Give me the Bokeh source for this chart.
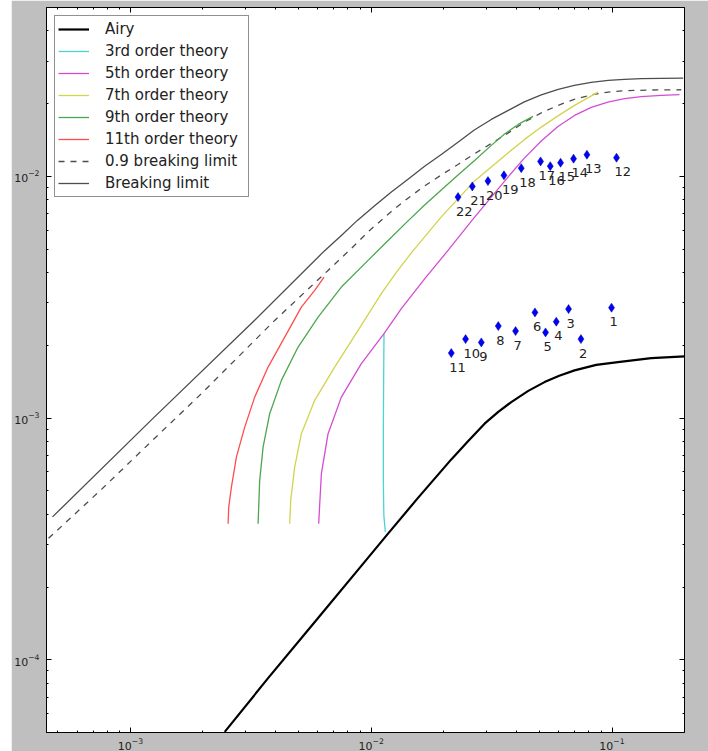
from bokeh.plotting import figure
from bokeh.models import (Range1d, FixedTicker, LogTickFormatter, LogAxis, Legend,
                          LegendItem, ColumnDataSource, Spacer, CustomJSTickFormatter)
from bokeh.layouts import row
from bokeh.embed import file_html
from bokeh.resources import INLINE
from bokeh.core.properties import value

# ---- wave steepness H/gT^2 against relative depth d/gT^2 ----
breaking_x = [4.745e-4, 1.222e-3, 3.272e-3, 6.388e-3, 7.514e-3, 8.757e-3, 1.030e-2, 1.212e-2,
              1.426e-2, 1.661e-2, 1.954e-2, 2.299e-2, 2.679e-2, 3.152e-2, 3.708e-2, 4.322e-2,
              5.083e-2, 5.979e-2, 6.968e-2, 8.197e-2, 9.643e-2, 0.1124, 0.1322, 0.1601, 0.1975]
breaking_y = [3.90e-4, 9.83e-4, 2.536e-3, 4.918e-3, 5.70e-3, 6.577e-3, 7.550e-3, 8.627e-3,
              9.765e-3, 1.100e-2, 1.233e-2, 1.389e-2, 1.557e-2, 1.721e-2, 1.876e-2, 2.034e-2,
              2.174e-2, 2.291e-2, 2.379e-2, 2.448e-2, 2.496e-2, 2.520e-2, 2.537e-2, 2.543e-2, 2.550e-2]

breaking09_x = [4.567e-4, 7.58e-4, 1.222e-3, 1.971e-3, 3.972e-3, 6.618e-3, 8.268e-3, 9.848e-3,
                1.212e-2, 1.426e-2, 1.666e-2, 1.954e-2, 2.293e-2, 2.679e-2, 3.152e-2, 3.708e-2,
                4.334e-2, 5.083e-2, 5.962e-2, 6.968e-2, 8.197e-2, 9.643e-2, 0.1127, 0.14547, 0.1938]
breaking09_y = [3.18e-4, 5.07e-4, 8.01e-4, 1.262e-3, 2.536e-3, 4.084e-3, 5.036e-3, 5.977e-3,
                7.165e-3, 8.148e-3, 9.134e-3, 1.014e-2, 1.121e-2, 1.239e-2, 1.369e-2, 1.514e-2,
                1.680e-2, 1.831e-2, 1.967e-2, 2.083e-2, 2.174e-2, 2.233e-2, 2.263e-2, 2.278e-2, 2.284e-2]

airy_x = [2.463e-3, 3.729e-3, 6.015e-3, 9.095e-3, 1.1743e-2, 1.564e-2, 2.150e-2, 2.523e-2,
          2.956e-2, 3.370e-2, 3.815e-2, 4.489e-2, 5.246e-2, 6.036e-2, 6.988e-2, 8.599e-2,
          0.1058, 0.14547, 0.2000]
airy_y = [5.031e-5, 8.391e-5, 1.489e-4, 2.446e-4, 3.325e-4, 4.676e-4, 6.747e-4, 8.01e-4,
          9.480e-4, 1.061e-3, 1.165e-3, 1.296e-3, 1.409e-3, 1.498e-3, 1.575e-3, 1.660e-3,
          1.705e-3, 1.771e-3, 1.800e-3]

order3_x = [1.130e-2, 1.1259e-2, 1.1226e-2, 1.1226e-2, 1.1281e-2, 1.1444e-2]
order3_y = [2.235e-3, 1.432e-3, 8.894e-4, 5.524e-4, 3.958e-4, 3.376e-4]

order5_x = [6.049e-3, 6.207e-3, 6.618e-3, 7.514e-3, 9.095e-3, 1.130e-2, 1.3335e-2, 1.666e-2,
            2.084e-2, 2.687e-2, 3.697e-2, 4.334e-2, 5.083e-2, 5.962e-2, 6.988e-2, 8.197e-2,
            9.616e-2, 0.1127, 0.1322, 0.1601, 0.1906]
order5_y = [3.657e-4, 5.888e-4, 8.619e-4, 1.221e-3, 1.680e-3, 2.235e-3, 2.836e-3, 3.766e-3,
            4.941e-3, 6.786e-3, 9.934e-3, 1.193e-2, 1.402e-2, 1.610e-2, 1.788e-2, 1.930e-2,
            2.030e-2, 2.097e-2, 2.137e-2, 2.164e-2, 2.178e-2]

order7_x = [4.585e-3, 4.629e-3, 4.809e-3, 5.126e-3, 5.823e-3, 7.048e-3, 8.816e-3, 1.1013e-2,
            1.271e-2, 1.4672e-2, 1.954e-2, 2.687e-2, 3.697e-2, 4.334e-2, 5.083e-2, 5.962e-2,
            6.988e-2, 8.740e-2]
order7_y = [3.657e-4, 4.566e-4, 6.270e-4, 8.619e-4, 1.184e-3, 1.626e-3, 2.306e-3, 3.271e-3,
            4.007e-3, 4.826e-3, 6.799e-3, 9.580e-3, 1.251e-2, 1.423e-2, 1.600e-2, 1.780e-2,
            1.967e-2, 2.233e-2]

order9_x = [3.389e-3, 3.441e-3, 3.555e-3, 3.786e-3, 4.235e-3, 4.968e-3, 6.015e-3, 7.514e-3,
            9.699e-3, 1.1924e-2, 1.4217e-2, 1.666e-2, 1.954e-2, 2.293e-2, 2.687e-2, 3.152e-2,
            3.579e-2, 4.080e-2, 4.696e-2]
order9_y = [3.657e-4, 5.524e-4, 7.586e-4, 1.043e-3, 1.432e-3, 1.967e-3, 2.617e-3, 3.484e-3,
            4.492e-3, 5.513e-3, 6.546e-3, 7.622e-3, 8.795e-3, 1.014e-2, 1.165e-2, 1.344e-2,
            1.499e-2, 1.641e-2, 1.771e-2]

order11_x = [2.544e-3, 2.559e-3, 2.626e-3, 2.754e-3, 2.982e-3, 3.281e-3, 3.729e-3, 4.371e-3,
             5.126e-3, 5.823e-3, 6.369e-3]
order11_y = [3.657e-4, 4.282e-4, 5.183e-4, 6.897e-4, 9.178e-4, 1.221e-3, 1.626e-3, 2.163e-3,
             2.879e-3, 3.376e-3, 3.831e-3]

# measured waves, numbered 1..22
case_labels = [str(i) for i in range(1, 23)]
case_x = [9.952e-2, 7.429e-2, 6.599e-2, 5.868e-2, 5.296e-2, 4.786e-2, 3.976e-2, 3.370e-2,
          2.865e-2, 2.465e-2, 2.150e-2, 0.1044, 7.867e-2, 6.922e-2, 6.114e-2, 5.540e-2,
          5.049e-2, 4.198e-2, 3.558e-2, 3.053e-2, 2.629e-2, 2.293e-2]
case_y = [2.863e-3, 2.122e-3, 2.825e-3, 2.505e-3, 2.262e-3, 2.737e-3, 2.291e-3, 2.403e-3,
          2.057e-3, 2.122e-3, 1.857e-3, 1.195e-2, 1.230e-2, 1.184e-2, 1.139e-2, 1.103e-2,
          1.154e-2, 1.082e-2, 1.010e-2, 9.562e-3, 9.091e-3, 8.210e-3]

x_major = [1e-3, 1e-2, 1e-1]
y_major = [1e-4, 1e-3, 1e-2]
x_minor = [m * 10.0 ** e for e in (-4, -3, -2, -1) for m in range(2, 10)
           if 4.48e-4 < m * 10.0 ** e < 0.2]
y_minor = [m * 10.0 ** e for e in (-5, -4, -3, -2) for m in range(2, 10)
           if 5e-5 < m * 10.0 ** e < 5e-2]

FONT = "DejaVu Sans"
GRAY_BG = "#bfbfbf"

p = figure(x_axis_type="log", y_axis_type="log",
           x_range=Range1d(4.48e-4, 0.2), y_range=Range1d(5e-5, 5e-2),
           frame_width=638, frame_height=725,
           min_border_left=34, min_border_right=25, min_border_top=7, min_border_bottom=19,
           output_backend="svg", toolbar_location=None,
           border_fill_color=GRAY_BG, background_fill_color="white")
p.grid.visible = False
p.outline_line_color = "black"
p.outline_line_width = 1


def style_axis(ax, labels=True):
    ax.axis_line_color = "black"
    ax.major_tick_in = 5
    ax.major_tick_out = 0
    ax.minor_tick_in = 2
    ax.minor_tick_out = 0
    ax.major_tick_line_color = "black"
    ax.minor_tick_line_color = "black"
    if labels:
        ax.major_label_text_font = FONT
        ax.major_label_text_font_size = "11px"
        ax.major_label_text_color = "#222222"
    else:
        ax.major_label_standoff = 0


p.xaxis.ticker = FixedTicker(ticks=x_major, minor_ticks=x_minor)
p.xaxis.formatter = LogTickFormatter()
p.yaxis.ticker = FixedTicker(ticks=y_major, minor_ticks=y_minor)
p.yaxis.formatter = LogTickFormatter()
style_axis(p.xaxis[0])
style_axis(p.yaxis[0])
p.xaxis.major_label_standoff = 5
p.yaxis.major_label_standoff = 7

blank = CustomJSTickFormatter(code="return ''")
top_axis = LogAxis(ticker=FixedTicker(ticks=x_major, minor_ticks=x_minor), formatter=blank)
right_axis = LogAxis(ticker=FixedTicker(ticks=y_major, minor_ticks=y_minor), formatter=blank)
style_axis(top_axis, labels=False)
style_axis(right_axis, labels=False)
p.add_layout(top_axis, "above")
p.add_layout(right_axis, "right")

r_break = p.line(breaking_x, breaking_y, line_color="#4d4d4d", line_width=1.3,
                 line_join="round")
r_break09 = p.line(breaking09_x, breaking09_y, line_color="#4d4d4d", line_width=1.3,
                   line_dash="6 6")
r_airy = p.line(airy_x, airy_y, line_color="black", line_width=2.2, line_join="round")
r3 = p.line(order3_x, order3_y, line_color="#4dd3d3", line_width=1.3)
r5 = p.line(order5_x, order5_y, line_color="#d34dd3", line_width=1.3, line_join="round")
r7 = p.line(order7_x, order7_y, line_color="#d3d34d", line_width=1.3, line_join="round")
r9 = p.line(order9_x, order9_y, line_color="#4da64d", line_width=1.3, line_join="round")
r11 = p.line(order11_x, order11_y, line_color="#ff4d4d", line_width=1.3, line_join="round")

cases = ColumnDataSource(dict(x=case_x, y=case_y, label=case_labels))
p.scatter("x", "y", source=cases, marker="diamond", size=9,
          fill_color="#0000ff", line_color="#00008b", line_width=0.5)
p.text("x", "y", text="label", source=cases, text_font=value(FONT),
       text_font_size="13px", text_color="#222222", text_align="left",
       text_baseline="alphabetic", x_offset=-2, y_offset=14)

legend = Legend(items=[
    LegendItem(label="Airy", renderers=[r_airy]),
    LegendItem(label="3rd order theory", renderers=[r3]),
    LegendItem(label="5th order theory", renderers=[r5]),
    LegendItem(label="7th order theory", renderers=[r7]),
    LegendItem(label="9th order theory", renderers=[r9]),
    LegendItem(label="11th order theory", renderers=[r11]),
    LegendItem(label="0.9 breaking limit", renderers=[r_break09]),
    LegendItem(label="Breaking limit", renderers=[r_break]),
], location="top_left")
legend.margin = 8
legend.padding = 3
legend.spacing = 2
legend.label_height = 20
legend.glyph_height = 20
legend.glyph_width = 31
legend.label_width = 140
legend.label_standoff = 16
legend.label_text_font = FONT
legend.label_text_font_size = "15px"
legend.label_text_color = "#222222"
legend.border_line_color = "#222222"
legend.border_line_width = 1.3
legend.background_fill_color = "white"
legend.background_fill_alpha = 1.0
p.add_layout(legend)

layout = row(Spacer(width=11, height=751), p)
open("out.html", "w").write(file_html(layout, INLINE))
